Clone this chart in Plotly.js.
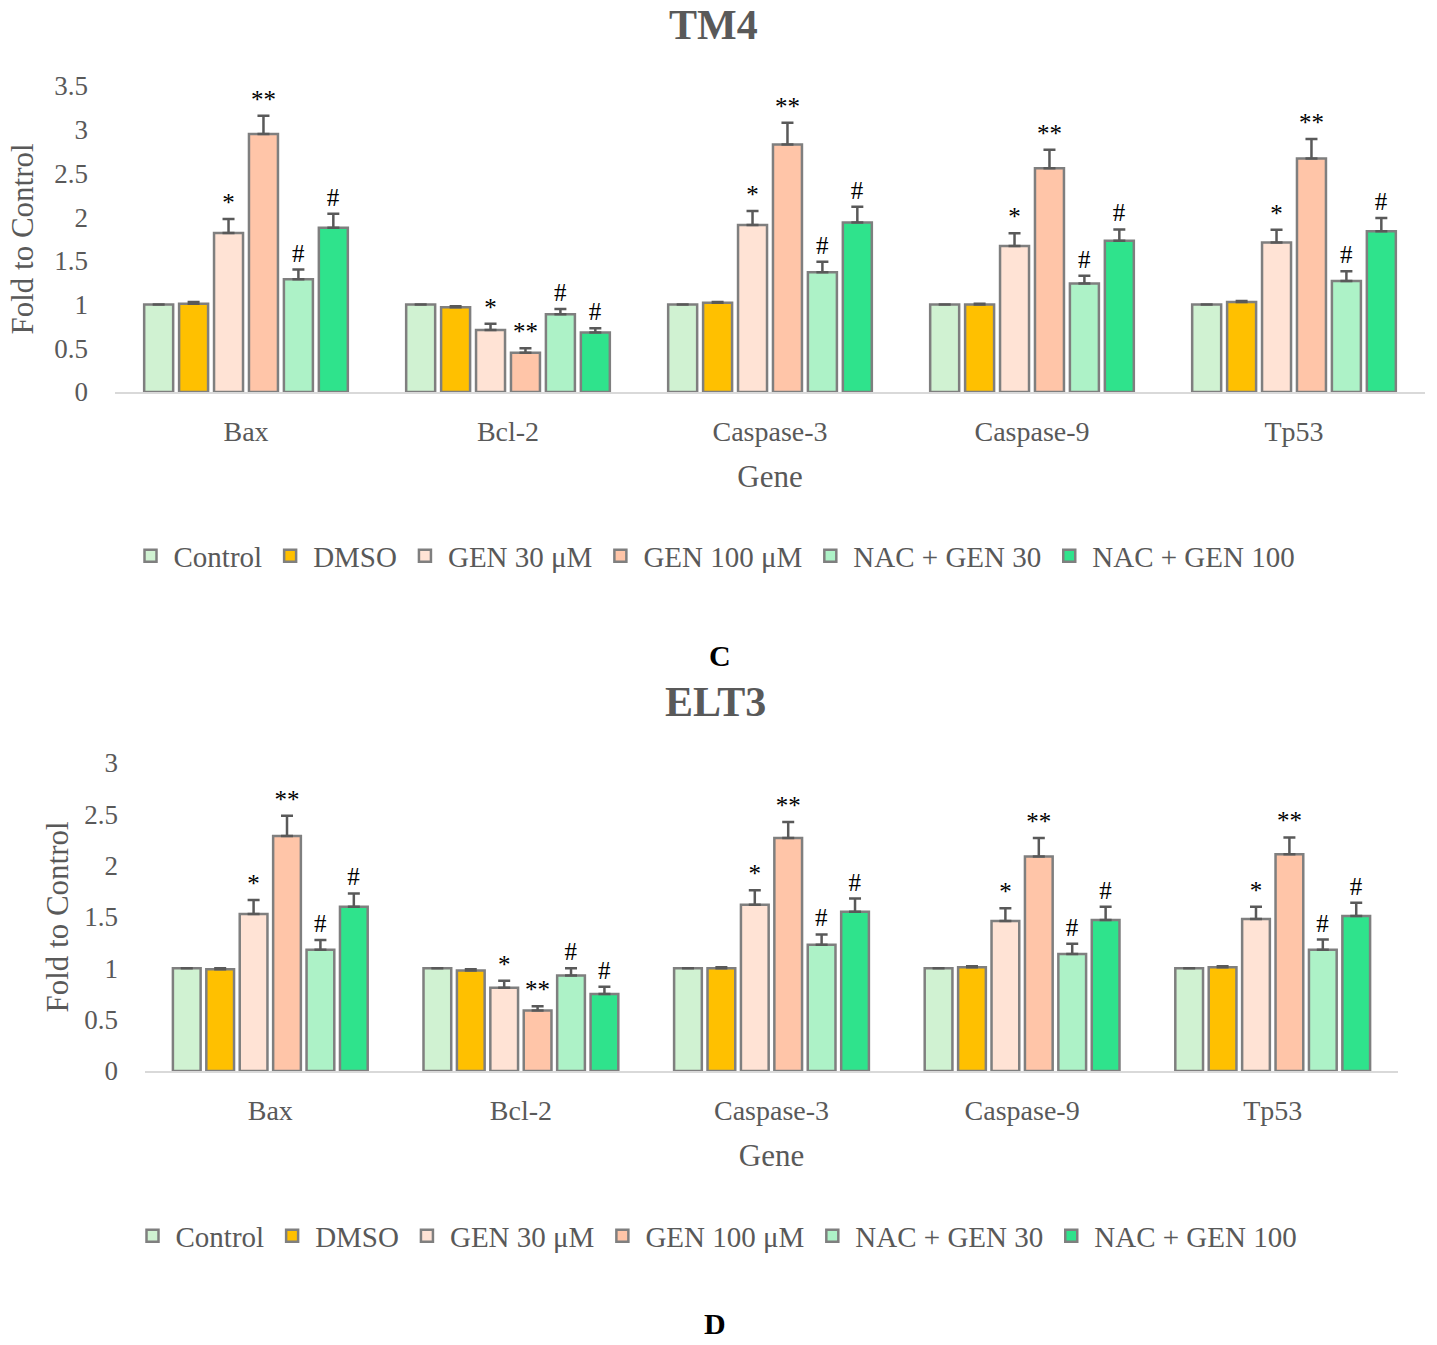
<!DOCTYPE html>
<html>
<head>
<meta charset="utf-8">
<script src="https://cdn.plot.ly/plotly-3.0.1.min.js"></script>
<style>
  html, body { margin: 0; padding: 0; background: #ffffff; }
  #chart { width: 1437px; height: 1345px; }
</style>
</head>
<body>
<div id="chart"></div>
<script>
// ---------- DATA ----------
const genes = ['Bax', 'Bcl-2', 'Caspase-3', 'Caspase-9', 'Tp53'];
const groupNames = ['Control', 'DMSO', 'GEN 30 μM', 'GEN 100 μM', 'NAC + GEN 30', 'NAC + GEN 100'];

// TM4 (panel C)
const tm4Control = [1.00, 1.00, 1.00, 1.00, 1.00];
const tm4Dmso    = [1.01, 0.97, 1.02, 1.00, 1.03];
const tm4Gen30   = [1.82, 0.71, 1.91, 1.67, 1.71];
const tm4Gen100  = [2.95, 0.45, 2.83, 2.56, 2.67];
const tm4Nac30   = [1.29, 0.89, 1.37, 1.24, 1.27];
const tm4Nac100  = [1.88, 0.68, 1.94, 1.73, 1.84];

const tm4ControlErr = [0, 0, 0, 0, 0];
const tm4DmsoErr    = [0.02, 0.01, 0.01, 0.01, 0.01];
const tm4Gen30Err   = [0.16, 0.07, 0.16, 0.145, 0.145];
const tm4Gen100Err  = [0.21, 0.05, 0.25, 0.21, 0.225];
const tm4Nac30Err   = [0.11, 0.06, 0.12, 0.09, 0.11];
const tm4Nac100Err  = [0.16, 0.05, 0.18, 0.13, 0.15];

// ELT3 (panel D)
const eltControl = [1.00, 1.00, 1.00, 1.00, 1.00];
const eltDmso    = [0.99, 0.98, 1.00, 1.01, 1.01];
const eltGen30   = [1.53, 0.81, 1.62, 1.46, 1.48];
const eltGen100  = [2.29, 0.59, 2.27, 2.09, 2.11];
const eltNac30   = [1.18, 0.93, 1.23, 1.14, 1.18];
const eltNac100  = [1.60, 0.75, 1.55, 1.47, 1.51];

const eltControlErr = [0, 0, 0, 0, 0];
const eltDmsoErr    = [0.01, 0.01, 0.01, 0.01, 0.01];
const eltGen30Err   = [0.135, 0.07, 0.14, 0.125, 0.12];
const eltGen100Err  = [0.195, 0.04, 0.155, 0.18, 0.165];
const eltNac30Err   = [0.095, 0.07, 0.10, 0.10, 0.10];
const eltNac100Err  = [0.13, 0.07, 0.13, 0.13, 0.13];

// Significance marks (same pattern for both cell lines)
const sigControl = ['', '', '', '', ''];
const sigDmso    = ['', '', '', '', ''];
const sigGen30   = ['*', '*', '*', '*', '*'];
const sigGen100  = ['**', '**', '**', '**', '**'];
const sigNac30   = ['#', '#', '#', '#', '#'];
const sigNac100  = ['#', '#', '#', '#', '#'];

// ---------- STYLE ----------
const barColors = ['#D0F2D2', '#FFC000', '#FFE3D5', '#FFC5A8', '#ADF2C7', '#2FE38C'];
const FONT = '"Liberation Serif", "Times New Roman", serif';
const GRAY = '#595959';

const tm4Vals = [tm4Control, tm4Dmso, tm4Gen30, tm4Gen100, tm4Nac30, tm4Nac100];
const tm4Errs = [tm4ControlErr, tm4DmsoErr, tm4Gen30Err, tm4Gen100Err, tm4Nac30Err, tm4Nac100Err];
const eltVals = [eltControl, eltDmso, eltGen30, eltGen100, eltNac30, eltNac100];
const eltErrs = [eltControlErr, eltDmsoErr, eltGen30Err, eltGen100Err, eltNac30Err, eltNac100Err];
const sigs = [sigControl, sigDmso, sigGen30, sigGen100, sigNac30, sigNac100];

function buildTraces(vals, errs, xa, ya, legendName, prefix) {
  const out = [];
  vals.forEach((v, i) => {
    out.push({
      type: 'bar', x: genes, y: v, name: groupNames[i],
      xaxis: xa, yaxis: ya, legend: legendName,
      offsetgroup: prefix + i,
      marker: { color: barColors[i], line: { color: '#7F7F7F', width: 2.5 } },
      error_y: { type: 'data', symmetric: false, array: errs[i], arrayminus: genes.map(() => 0),
                 color: GRAY, thickness: 2.5, width: 6 },
      hoverinfo: 'x+y+name'
    });
  });
  // transparent carrier bars for significance marks (top of bar + error)
  vals.forEach((v, i) => {
    out.push({
      type: 'bar', x: genes, y: v.map((val, k) => val + errs[i][k]),
      xaxis: xa, yaxis: ya, legend: legendName, showlegend: false,
      offsetgroup: prefix + i,
      marker: { color: 'rgba(0,0,0,0)', line: { width: 0 } },
      text: sigs[i], textposition: 'outside', cliponaxis: false, constraintext: 'none',
      textfont: { family: FONT, size: 25, color: '#000000' },
      hoverinfo: 'skip'
    });
  });
  return out;
}

const data = [].concat(
  buildTraces(tm4Vals, tm4Errs, 'x', 'y', 'legend', 'a'),
  buildTraces(eltVals, eltErrs, 'x2', 'y2', 'legend2', 'b')
);

const H = 1345, W = 1437;
const py = px => 1 - px / H;
const pxX = px => px / W;

function xAxis(d, anchor) {
  return {
    domain: d, anchor: anchor, type: 'category',
    showline: true, linecolor: '#D9D9D9', linewidth: 2,
    ticks: '', showgrid: false, zeroline: false,
    tickfont: { family: FONT, size: 28, color: GRAY },
    ticklabelstandoff: 13,
    title: { text: 'Gene', font: { family: FONT, size: 31, color: GRAY }, standoff: 20 },
    fixedrange: true
  };
}
function yAxis(d, anchor, maxV, titleStandoff) {
  return {
    domain: d, anchor: anchor, range: [0, maxV], dtick: 0.5,
    showline: false, showgrid: false, zeroline: false, ticks: '',
    tickfont: { family: FONT, size: 27, color: GRAY },
    ticklabelstandoff: 26,
    title: { text: 'Fold to Control', font: { family: FONT, size: 31, color: GRAY }, standoff: titleStandoff },
    fixedrange: true
  };
}

const legendBase = {
  orientation: 'h', xanchor: 'center', yanchor: 'middle',
  font: { family: FONT, size: 29, color: GRAY },
  bgcolor: 'rgba(0,0,0,0)', itemwidth: 36, itemclick: false, itemdoubleclick: false
};

const layout = {
  width: W, height: H,
  margin: { l: 0, r: 0, t: 0, b: 0 },
  paper_bgcolor: '#FFFFFF', plot_bgcolor: '#FFFFFF',
  barmode: 'group', bargap: 0.2, bargroupgap: 0.17,
  showlegend: true,
  xaxis: xAxis([pxX(115), pxX(1425)], 'y'),
  yaxis: yAxis([py(392), py(86)], 'x', 3.5, 11),
  xaxis2: xAxis([pxX(145), pxX(1398)], 'y2'),
  yaxis2: yAxis([py(1071), py(763)], 'x2', 3, 6),
  legend: Object.assign({}, legendBase, { x: pxX(714), y: py(556) }),
  legend2: Object.assign({}, legendBase, { x: pxX(716), y: py(1236) }),
  annotations: [
    { text: '<b>TM4</b>', xref: 'paper', yref: 'paper', x: pxX(713), y: py(25),
      xanchor: 'center', yanchor: 'middle', showarrow: false,
      font: { family: FONT, size: 42, color: GRAY } },
    { text: '<b>C</b>', xref: 'paper', yref: 'paper', x: pxX(720), y: py(655),
      xanchor: 'center', yanchor: 'middle', showarrow: false,
      font: { family: FONT, size: 30, color: '#000000' } },
    { text: '<b>ELT3</b>', xref: 'paper', yref: 'paper', x: pxX(715), y: py(702),
      xanchor: 'center', yanchor: 'middle', showarrow: false,
      font: { family: FONT, size: 42, color: GRAY } },
    { text: '<b>D</b>', xref: 'paper', yref: 'paper', x: pxX(715), y: py(1323),
      xanchor: 'center', yanchor: 'middle', showarrow: false,
      font: { family: FONT, size: 30, color: '#000000' } }
  ]
};

Plotly.newPlot('chart', data, layout, { displayModeBar: false, staticPlot: false });
</script>
</body>
</html>
